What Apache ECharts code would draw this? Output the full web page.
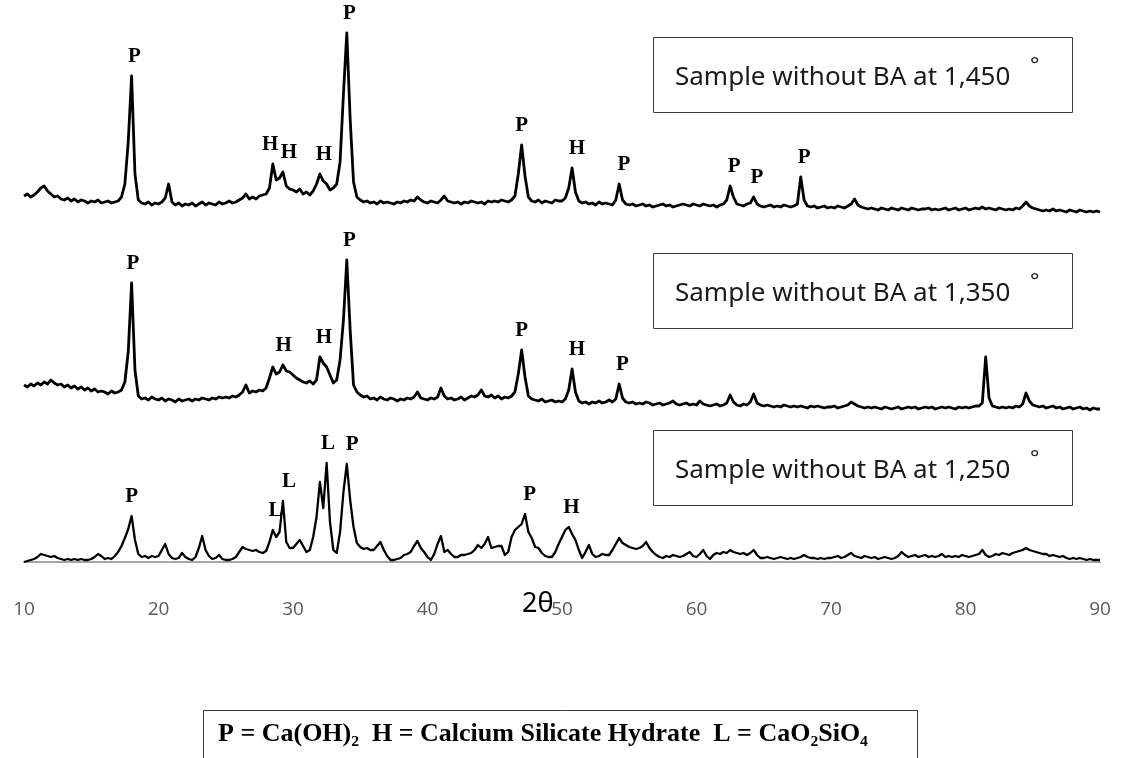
<!DOCTYPE html>
<html>
<head>
<meta charset="utf-8">
<script src="https://cdn.jsdelivr.net/npm/echarts@6/dist/echarts.min.js"></script>
<style>
  html, body { margin: 0; padding: 0; background: #ffffff; }
  #chart { width: 1127px; height: 758px; }
</style>
</head>
<body>
<div id="chart"></div>
<script>
// Diffraction scan: 2θ from 10° to 90°, one reading every 0.25°
const scanStart = 10;
const scanStep = 0.25;
const tickLabels = [10, 20, 30, 40, 50, 60, 70, 80, 90];

// Intensity (a.u.), one row per degree
const sample1450 = [
  18, 20, 17, 19,  22, 26, 28, 23,  20, 17, 18, 15,  14, 16, 13, 15,  12, 14, 13, 11,
  13, 12, 14, 11,  12, 13, 11, 12,  13, 17, 30, 72,  138, 40, 14, 11,  10, 12, 9, 11,
  10, 12, 16, 30,  12, 9, 11, 8,  10, 9, 11, 8,  10, 12, 9, 11,  10, 9, 12, 10,
  11, 13, 11, 12,  14, 16, 20, 15,  17, 15, 18, 19,  20, 26, 50, 34,  36, 42, 28, 25,
  24, 22, 25, 20,  22, 19, 23, 30,  40, 33, 30, 24,  26, 30, 52, 120,  181, 95, 32, 17,
  14, 12, 13, 11,  12, 10, 13, 11,  12, 11, 10, 12,  11, 13, 12, 14,  13, 17, 14, 12,
  11, 13, 12, 11,  14, 18, 13, 12,  11, 12, 10, 12,  11, 13, 12, 11,  12, 10, 13, 12,
  13, 12, 14, 13,  12, 14, 18, 40,  69, 38, 17, 13,  12, 14, 11, 13,  12, 11, 14, 13,
  13, 16, 26, 46,  22, 13, 11, 12,  10, 11, 9, 12,  10, 11, 10, 9,  14, 30, 14, 10,
  9, 10, 8, 9,  10, 8, 9, 7,  8, 9, 10, 8,  9, 7, 8, 9,  10, 9, 8, 10,
  9, 8, 10, 9,  8, 9, 7, 9,  10, 14, 28, 17,  10, 9, 8, 10,  11, 17, 10, 8,
  7, 8, 9, 7,  8, 7, 9, 8,  7, 8, 10, 37,  14, 8, 7, 8,  6, 7, 8, 6,
  7, 6, 8, 7,  6, 8, 10, 15,  9, 7, 6, 5,  6, 5, 4, 6,  5, 4, 6, 5,
  4, 6, 5, 4,  6, 5, 4, 5,  5, 6, 4, 5,  4, 5, 6, 4,  5, 6, 4, 5,
  6, 4, 5, 6,  5, 7, 5, 6,  5, 4, 6, 5,  4, 5, 4, 6,  5, 8, 12, 8,
  6, 5, 4, 3,  4, 3, 5, 3,  4, 3, 2, 4,  3, 2, 4, 3,  2, 3, 2, 3,
  2
];

const sample1350 = [
  27, 25, 28, 26,  29, 27, 30, 28,  32, 29, 27, 28,  25, 27, 24, 26,  23, 25, 22, 24,
  21, 23, 20, 21,  20, 18, 21, 19,  20, 22, 30, 60,  129, 42, 16, 13,  14, 12, 15, 13,
  12, 14, 11, 13,  12, 10, 13, 11,  12, 13, 11, 13,  12, 14, 13, 12,  14, 13, 15, 14,
  15, 14, 16, 15,  17, 20, 27, 19,  21, 20, 22, 21,  24, 34, 45, 38,  40, 47, 41, 40,
  37, 34, 32, 30,  29, 31, 28, 32,  55, 49, 45, 37,  29, 32, 52, 92,  152, 82, 27, 20,
  17, 15, 16, 13,  14, 12, 15, 13,  12, 14, 13, 11,  13, 12, 14, 13,  15, 20, 14, 13,
  12, 14, 13, 15,  24, 16, 13, 14,  12, 13, 15, 12,  14, 16, 15, 17,  22, 16, 15, 17,
  14, 16, 13, 15,  14, 16, 20, 38,  62, 35, 16, 13,  12, 11, 13, 10,  11, 12, 10, 11,
  10, 13, 22, 43,  20, 11, 9, 10,  8, 10, 9, 11,  9, 10, 12, 10,  13, 28, 14, 10,
  9, 10, 8, 9,  8, 10, 9, 7,  8, 9, 7, 8,  9, 11, 8, 7,  8, 9, 7, 8,
  7, 11, 8, 7,  6, 7, 8, 6,  7, 9, 17, 10,  7, 6, 8, 7,  10, 18, 9, 7,
  6, 7, 6, 5,  6, 5, 7, 6,  5, 6, 5, 6,  5, 4, 6, 5,  6, 5, 4, 5,
  5, 6, 4, 5,  6, 7, 10, 8,  6, 5, 4, 5,  4, 5, 4, 3,  5, 4, 3, 4,
  5, 3, 4, 5,  4, 5, 3, 4,  5, 4, 5, 3,  4, 5, 4, 5,  4, 3, 5, 4,
  5, 4, 5, 6,  6, 9, 55, 14,  6, 5, 4, 5,  4, 5, 4, 6,  5, 8, 19, 11,
  7, 6, 5, 6,  4, 5, 6, 4,  5, 3, 4, 5,  3, 4, 5, 3,  4, 2, 4, 3,
  3
];

const sample1250 = [
  0, 1, 2, 3,  5, 8, 7, 6,  5, 6, 4, 3,  2, 3, 2, 3,  2, 3, 2, 2,
  3, 5, 8, 6,  3, 4, 3, 6,  10, 16, 24, 33,  46, 22, 8, 5,  6, 4, 6, 5,
  6, 12, 18, 8,  4, 3, 4, 9,  5, 3, 2, 5,  14, 26, 12, 6,  3, 4, 7, 3,
  2, 2, 3, 5,  10, 15, 13, 12,  11, 12, 10, 9,  11, 20, 32, 25,  30, 61, 20, 14,
  14, 18, 22, 16,  10, 12, 25, 45,  80, 54, 99, 40,  12, 9, 30, 70,  98, 62, 35, 19,
  15, 13, 14, 12,  12, 16, 20, 12,  6, 2, 2, 3,  4, 7, 8, 10,  16, 21, 14, 10,
  5, 2, 8, 18,  26, 10, 12, 8,  5, 5, 7, 7,  8, 9, 12, 17,  14, 18, 25, 14,
  15, 16, 16, 7,  10, 25, 32, 35,  38, 48, 30, 24,  15, 14, 9, 6,  5, 5, 10, 18,
  25, 32, 35, 28,  22, 12, 4, 10,  17, 8, 5, 6,  8, 7, 7, 12,  18, 24, 19, 17,
  15, 14, 13, 14,  16, 20, 14, 10,  7, 5, 4, 6,  5, 7, 6, 5,  6, 8, 10, 6,
  5, 8, 12, 6,  3, 7, 9, 8,  10, 9, 12, 10,  9, 8, 9, 7,  9, 12, 7, 4,
  4, 5, 4, 3,  4, 5, 4, 3,  4, 3, 4, 5,  7, 5, 4, 4,  3, 4, 3, 4,
  4, 5, 6, 4,  5, 7, 9, 6,  5, 4, 6, 5,  4, 5, 3, 4,  5, 4, 3, 4,
  6, 10, 7, 5,  6, 7, 5, 6,  7, 5, 6, 5,  6, 8, 5, 6,  5, 6, 5, 7,
  6, 5, 6, 7,  8, 12, 7, 5,  6, 8, 7, 9,  8, 7, 9, 10,  11, 12, 14, 12,
  11, 10, 9, 8,  8, 6, 7, 6,  5, 6, 4, 3,  4, 3, 4, 3,  2, 3, 2, 2,
  2
];

// Phase letters and the 2θ they sit over
const phases1450 = [['P', 18.2], ['H', 28.3], ['H', 29.7], ['H', 32.3], ['P', 34.2], ['P', 47.0],
                    ['H', 51.1], ['P', 54.6], ['P', 62.8], ['P', 64.5], ['P', 68.0]];
const phases1350 = [['P', 18.1], ['H', 29.3], ['H', 32.3], ['P', 34.2], ['P', 47.0], ['H', 51.1], ['P', 54.5]];
const phases1250 = [['P', 18.0], ['L', 28.7], ['L', 29.7], ['L', 32.6], ['P', 34.4], ['P', 47.6], ['H', 50.7]];

const sampleTitles = ['Sample without BA at 1,450', 'Sample without BA at 1,350', 'Sample without BA at 1,250'];
const legendText = 'P = Ca(OH)\u2082  H = Calcium Silicate Hydrate  L = CaO\u2082SiO\u2084';

function toPairs(values) {
  return values.map((v, i) => [scanStart + i * scanStep, v]);
}

// highest reading within ±0.45° of a given 2θ
function localMax(values, x) {
  let best = 0;
  values.forEach((v, i) => {
    const t = scanStart + i * scanStep;
    if (Math.abs(t - x) <= 0.45 && v > best) best = v;
  });
  return best;
}

function phaseMarks(values, phases) {
  return {
    symbol: 'circle',
    symbolSize: 1,
    silent: true,
    itemStyle: { color: 'rgba(0,0,0,0)' },
    label: {
      show: true,
      position: 'top',
      distance: 8,
      color: '#000',
      fontFamily: 'Liberation Serif',
      fontWeight: 'bold',
      fontSize: 21,
      formatter: p => p.name
    },
    data: phases.map(([name, x]) => ({ name, coord: [x, localMax(values, x)] }))
  };
}

const grids = [
  { left: 24, right: 27, top: 0, height: 214 },
  { left: 24, right: 27, top: 220, height: 192 },
  { left: 24, right: 27, top: 420, height: 142 }
];
const yMax = [214, 192, 142];

const traces = [sample1450, sample1350, sample1250];
const phaseSets = [phases1450, phases1350, phases1250];

const xAxes = grids.map((g, i) => ({
  type: 'value',
  gridIndex: i,
  min: tickLabels[0],
  max: tickLabels[tickLabels.length - 1],
  interval: 10,
  show: i === 2,
  axisLine: { show: true, onZero: false, lineStyle: { color: '#a6a6a6', width: 2 } },
  axisTick: { show: false },
  splitLine: { show: false },
  axisLabel: {
    show: true,
    margin: 38,
    fontSize: 19,
    color: '#595959',
    fontFamily: 'Open Sans',
    showMinLabel: true,
    showMaxLabel: true
  }
}));

const yAxes = grids.map((g, i) => ({
  type: 'value',
  gridIndex: i,
  min: 0,
  max: yMax[i],
  show: false
}));

const series = traces.map((values, i) => ({
  type: 'line',
  xAxisIndex: i,
  yAxisIndex: i,
  data: toPairs(values),
  showSymbol: false,
  symbol: 'none',
  clip: false,
  lineStyle: { color: '#000', width: i === 2 ? 2.3 : 2.8, join: 'round' },
  markPoint: phaseMarks(values, phaseSets[i])
}));

// sample caption boxes on the right
const boxTops = [37, 253, 430];
const graphics = [];
boxTops.forEach((top, i) => {
  graphics.push({
    type: 'rect',
    shape: { x: 653.5, y: top + 0.5, width: 419, height: 75 },
    style: { fill: '#fff', stroke: '#3a3a3a', lineWidth: 1 },
    z: 10
  });
  graphics.push({
    type: 'text',
    x: 675, y: top + 41,
    style: { text: sampleTitles[i], fill: '#1a1a1a', font: '26px "Noto Sans"', verticalAlign: 'middle' },
    z: 11
  });
  graphics.push({
    type: 'text',
    x: 1030, y: top + 29,
    style: { text: '°', fill: '#1a1a1a', font: '22px "Noto Sans"', verticalAlign: 'middle' },
    z: 11
  });
});

// axis title
graphics.push({
  type: 'text',
  x: 522, y: 604,
  style: { text: '2θ', fill: '#000', font: '27px "Noto Sans"', verticalAlign: 'middle' },
  z: 11
});

// phase key at the bottom
graphics.push({
  type: 'rect',
  shape: { x: 203.5, y: 710.5, width: 714, height: 80 },
  style: { fill: '#fff', stroke: '#3a3a3a', lineWidth: 1 },
  z: 10
});
graphics.push({
  type: 'text',
  x: 218, y: 734,
  style: { text: legendText, fill: '#000', font: 'bold 26px "Liberation Serif"', verticalAlign: 'middle' },
  z: 11
});

const chart = echarts.init(document.getElementById('chart'), null, { renderer: 'canvas' });
chart.setOption({
  animation: false,
  backgroundColor: '#ffffff',
  grid: grids,
  xAxis: xAxes,
  yAxis: yAxes,
  series: series,
  graphic: graphics
});
</script>
</body>
</html>
